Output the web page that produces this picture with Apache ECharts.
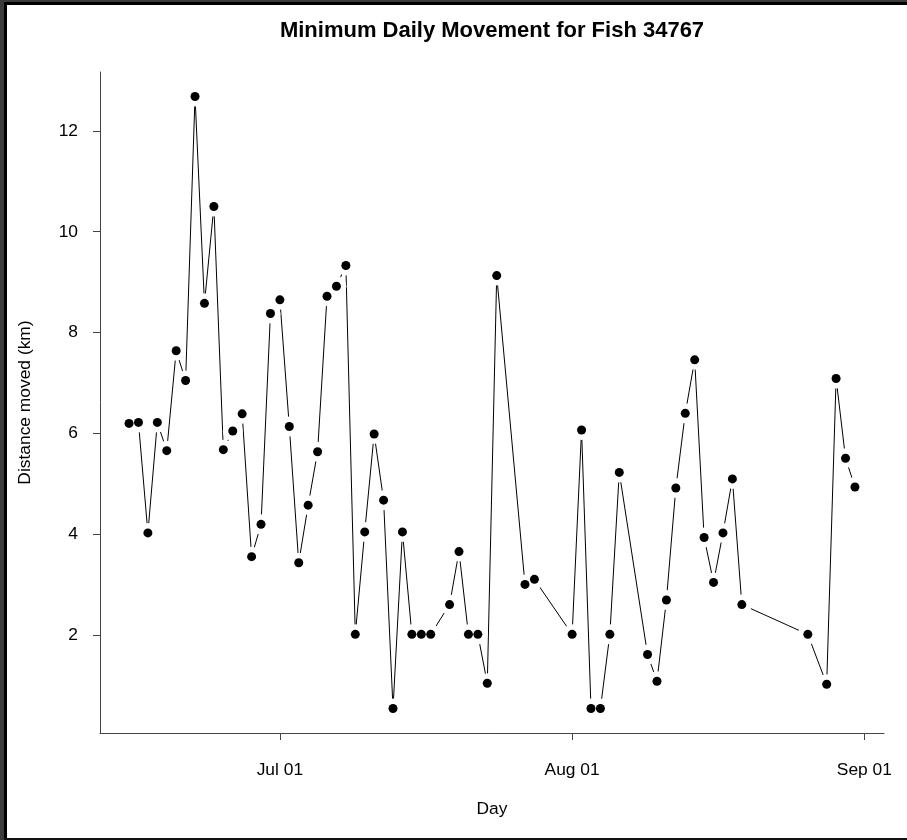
<!DOCTYPE html>
<html>
<head>
<meta charset="utf-8">
<script src="https://cdn.jsdelivr.net/npm/echarts@6/dist/echarts.min.js"></script>
<style>
html,body{margin:0;padding:0;background:#fff;}
#chart{width:907px;height:840px;}
</style>
</head>
<body>
<div id="chart"></div>
<script>
const dates = [
'2013-06-15','2013-06-16','2013-06-17','2013-06-18','2013-06-19','2013-06-20','2013-06-21','2013-06-22',
'2013-06-23','2013-06-24','2013-06-25','2013-06-26','2013-06-27','2013-06-28','2013-06-29','2013-06-30',
'2013-07-01','2013-07-02','2013-07-03','2013-07-04','2013-07-05','2013-07-06','2013-07-07','2013-07-08',
'2013-07-09','2013-07-10','2013-07-11','2013-07-12','2013-07-13','2013-07-14','2013-07-15','2013-07-16',
'2013-07-17','2013-07-19','2013-07-20','2013-07-21','2013-07-22','2013-07-23','2013-07-24','2013-07-27',
'2013-07-28','2013-08-01','2013-08-02','2013-08-03','2013-08-04','2013-08-05','2013-08-06','2013-08-09',
'2013-08-10','2013-08-11','2013-08-12','2013-08-13','2013-08-14','2013-08-15','2013-08-16','2013-08-17',
'2013-08-18','2013-08-19','2013-08-26','2013-08-28','2013-08-29','2013-08-30','2013-08-31'];

const distances = [
6.20,6.22,4.03,6.22,5.66,7.64,7.05,12.68,8.58,10.50,5.68,6.05,6.39,3.56,4.20,8.38,
8.65,6.14,3.44,4.58,5.64,8.72,8.92,9.33,2.02,4.05,5.99,4.68,0.55,4.05,2.02,2.02,
2.02,2.61,3.66,2.02,2.02,1.05,9.13,3.01,3.11,
2.02,6.07,0.55,0.55,2.02,5.23,1.62,1.09,2.70,4.92,6.40,7.46,3.94,3.05,4.03,5.10,
2.61,2.02,1.03,7.09,5.51,4.94];

const xTickDates = ['2013-07-01','2013-08-01','2013-09-01'];
const xTickLabels = ['Jul 01','Aug 01','Sep 01'];
const yTicks = [2,4,6,8,10,12];

const titleText = 'Minimum Daily Movement for Fish 34767';
const xLabel = 'Day';
const yLabel = 'Distance moved (km)';

// day numbers relative to origin
const origin = Date.UTC(2013,6,1);
function dayNum(s){const p=s.split('-').map(Number);return (Date.UTC(p[0],p[1]-1,p[2])-origin)/86400000;}
const xs = dates.map(dayNum);
const pts = xs.map((x,i)=>[x,distances[i]]);
const xTicks = xTickDates.map(dayNum);

// R-style 4% axis extension
const xMinD = Math.min(...xs), xMaxD = Math.max(...xs);
const yMinD = Math.min(...distances), yMaxD = Math.max(...distances);
const xPad = (xMaxD-xMinD)*0.04, yPad = (yMaxD-yMinD)*0.04;

const FONT = '"Liberation Sans", Arial, sans-serif';
const chart = echarts.init(document.getElementById('chart'), null, {renderer:'canvas'});
chart.setOption({
  animation:false,
  backgroundColor:'#ffffff',
  title:{
    text:titleText, left:487, top:15, textAlign:'center',
    textStyle:{fontFamily:FONT,fontSize:22,fontWeight:'bold',color:'#000'}
  },
  grid:{left:100,right:23,top:72,bottom:107,containLabel:false},
  xAxis:{
    type:'value', min:xMinD-xPad, max:xMaxD+xPad,
    name:xLabel, nameLocation:'middle', nameGap:68,
    nameTextStyle:{fontFamily:FONT,fontSize:17.4,color:'#000'},
    axisLine:{show:true,onZero:false,lineStyle:{color:'#444',width:1}},
    axisTick:{show:true,length:7,customValues:xTicks,lineStyle:{color:'#444'}},
    axisLabel:{customValues:xTicks,margin:29,fontFamily:FONT,fontSize:17.4,color:'#000',
      formatter:function(v){const i=xTicks.indexOf(v);return i>=0?xTickLabels[i]:'';}},
    splitLine:{show:false}
  },
  yAxis:{
    type:'value', min:yMinD-yPad, max:yMaxD+yPad,
    name:yLabel, nameLocation:'middle', nameGap:66, nameRotate:90,
    nameTextStyle:{fontFamily:FONT,fontSize:17.4,color:'#000'},
    axisLine:{show:true,onZero:false,lineStyle:{color:'#444',width:1}},
    axisTick:{show:true,length:7,customValues:yTicks,lineStyle:{color:'#444'}},
    axisLabel:{customValues:yTicks,margin:22,fontFamily:FONT,fontSize:17.4,color:'#000',
      formatter:function(v){return String(v);}},
    splitLine:{show:false}
  },
  series:[
    {
      type:'line', data:pts, z:2,
      lineStyle:{color:'#000',width:1},
      symbol:'circle', symbolSize:20, showAllSymbol:true,
      itemStyle:{color:'#ffffff',borderWidth:0,opacity:1},
      emphasis:{disabled:true}, silent:true
    },
    {
      type:'scatter', data:pts, z:3,
      symbol:'circle', symbolSize:9,
      itemStyle:{color:'#000',opacity:1},
      emphasis:{disabled:true}, silent:true
    }
  ],
  graphic:[
    {type:'rect',shape:{x:0,y:0,width:4,height:840},style:{fill:'#3c3c3c'},z:100},
    {type:'rect',shape:{x:4,y:0,width:3,height:840},style:{fill:'#000'},z:100},
    {type:'rect',shape:{x:0,y:0,width:907,height:2},style:{fill:'#3c3c3c'},z:100},
    {type:'rect',shape:{x:4,y:2,width:903,height:3},style:{fill:'#000'},z:100},
    {type:'rect',shape:{x:4,y:838,width:903,height:2},style:{fill:'#111'},z:100}
  ]
});
</script>
</body>
</html>
